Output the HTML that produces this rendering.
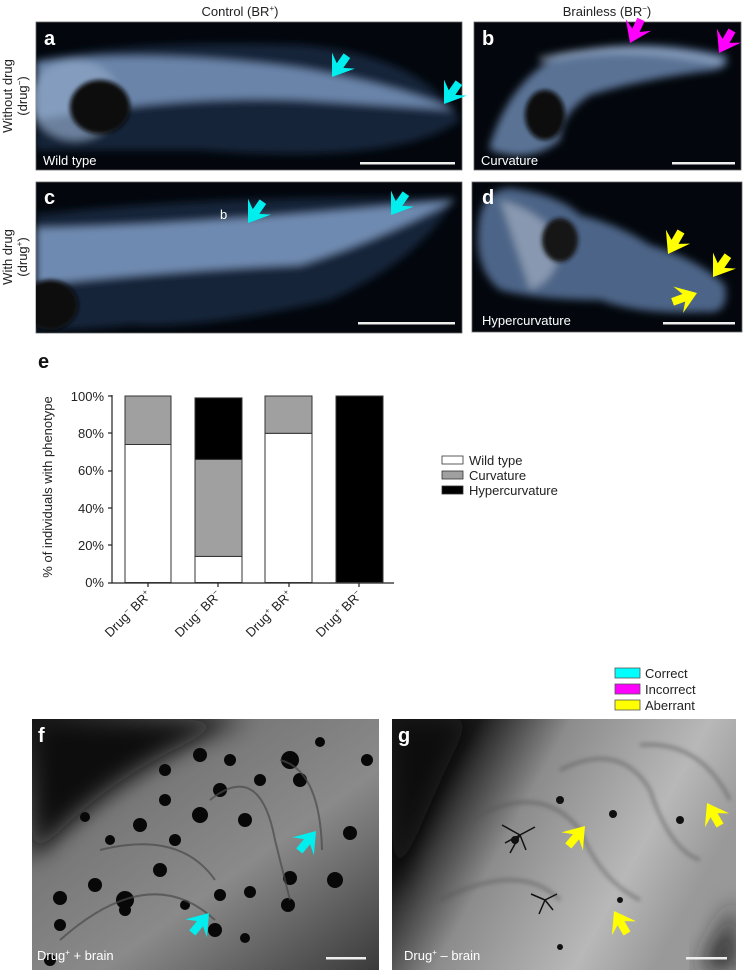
<!DOCTYPE html>
<html><head><meta charset="utf-8"><style>
html,body{margin:0;padding:0;background:#fff;}
svg{display:block;font-family:"Liberation Sans",Arial,sans-serif;}
</style></head><body>
<svg width="744" height="970" viewBox="0 0 744 970" xmlns="http://www.w3.org/2000/svg">
<defs>
<filter id="bl" x="-20%" y="-20%" width="140%" height="140%"><feGaussianBlur stdDeviation="4"/></filter>
<filter id="bl2" x="-20%" y="-20%" width="140%" height="140%"><feGaussianBlur stdDeviation="2"/></filter>
<filter id="bl8" x="-30%" y="-30%" width="160%" height="160%"><feGaussianBlur stdDeviation="12"/></filter>
<clipPath id="ca"><rect x="36" y="22" width="426" height="148"/></clipPath>
<clipPath id="cb"><rect x="474" y="22" width="267" height="148"/></clipPath>
<clipPath id="cc"><rect x="36" y="182" width="426" height="151"/></clipPath>
<clipPath id="cd"><rect x="472" y="182" width="270" height="150"/></clipPath>
<clipPath id="cf"><rect x="32" y="719" width="347" height="251"/></clipPath>
<clipPath id="cg"><rect x="392" y="719" width="344" height="251"/></clipPath>
<polygon id="ar" points="0,0 -20,-14 -14,-4 -26,-4 -26,4 -14,4 -20,14"/>
<linearGradient id="gf" x1="0" y1="0" x2="1" y2="1"><stop offset="0" stop-color="#111"/><stop offset="0.3" stop-color="#777"/><stop offset="0.6" stop-color="#8a8a8a"/><stop offset="1" stop-color="#3a3a3a"/></linearGradient>
<linearGradient id="gg" x1="0" y1="0" x2="1" y2="0.4"><stop offset="0" stop-color="#111"/><stop offset="0.22" stop-color="#1a1a1a"/><stop offset="0.45" stop-color="#8c8c8c"/><stop offset="0.8" stop-color="#b8b8b8"/><stop offset="1" stop-color="#999"/></linearGradient>
</defs>

<text x="240" y="16" font-size="13" text-anchor="middle" fill="#222">Control (BR<tspan font-size="8" dy="-5">+</tspan><tspan dy="5">)</tspan></text>
<text x="607" y="16" font-size="13" text-anchor="middle" fill="#222">Brainless (BR<tspan font-size="8" dy="-5">−</tspan><tspan dy="5">)</tspan></text>
<g font-size="13" fill="#222" text-anchor="middle">
<text transform="translate(12,96) rotate(-90)">Without drug</text>
<text transform="translate(27,96) rotate(-90)">(drug<tspan font-size="8" dy="-5">−</tspan><tspan dy="5">)</tspan></text>
<text transform="translate(12,257) rotate(-90)">With drug</text>
<text transform="translate(27,257) rotate(-90)">(drug<tspan font-size="8" dy="-5">+</tspan><tspan dy="5">)</tspan></text>
</g>

<!-- panel a -->
<rect x="36" y="22" width="426" height="148" fill="#03070d" stroke="#666" stroke-width="0.8"/>
<g clip-path="url(#ca)">
<g filter="url(#bl)">
<path d="M36,60 Q120,40 300,45 Q420,55 460,120 Q400,165 200,150 Q120,150 36,150Z" fill="#1a2a45" opacity="0.8"/>
<path d="M36,62 Q150,48 300,68 Q400,85 455,110 Q380,105 300,100 Q180,95 36,120Z" fill="#7f9cc5" opacity="0.8"/>
<ellipse cx="75" cy="100" rx="45" ry="40" fill="#90a8c8" opacity="0.7"/>
</g>
<ellipse cx="100" cy="107" rx="30" ry="27" fill="#070707" filter="url(#bl2)"/>
</g>
<text x="43" y="165" font-size="13" fill="#fff">Wild type</text>
<text x="44" y="45" font-size="20" font-weight="bold" fill="#fff">a</text>
<rect x="360" y="162" width="95" height="2.5" fill="#eee"/>

<!-- panel b -->
<rect x="474" y="22" width="267" height="148" fill="#03070d" stroke="#666" stroke-width="0.8"/>
<g clip-path="url(#cb)">
<g filter="url(#bl)">
<path d="M490,145 Q510,80 560,55 Q640,35 725,55 Q735,70 700,72 Q640,80 590,95 Q560,115 560,140 Q530,165 490,150Z" fill="#6f8db8" opacity="0.8"/>
<path d="M540,60 Q620,40 720,62" stroke="#b0c4e0" stroke-width="5" fill="none" opacity="0.7"/>
</g>
<ellipse cx="545" cy="115" rx="20" ry="25" fill="#070707" filter="url(#bl2)"/>
</g>
<text x="481" y="165" font-size="13" fill="#fff">Curvature</text>
<text x="482" y="45" font-size="20" font-weight="bold" fill="#fff">b</text>
<rect x="672" y="162" width="63" height="2.5" fill="#eee"/>

<!-- panel c -->
<rect x="36" y="182" width="426" height="151" fill="#03070d" stroke="#666" stroke-width="0.8"/>
<g clip-path="url(#cc)">
<g filter="url(#bl)">
<path d="M36,215 Q200,195 455,198 Q420,260 330,300 Q200,330 130,325 Q90,330 36,330Z" fill="#1a2a45" opacity="0.8"/>
<path d="M36,228 Q200,225 455,200 Q380,240 300,265 Q180,270 36,285Z" fill="#7f9cc5" opacity="0.85"/>
</g>
<ellipse cx="50" cy="305" rx="28" ry="25" fill="#070707" filter="url(#bl2)"/>
</g>
<text x="220" y="219" font-size="13" fill="#fff">b</text>
<text x="44" y="204" font-size="20" font-weight="bold" fill="#fff">c</text>
<rect x="358" y="322" width="97" height="2.5" fill="#eee"/>

<!-- panel d -->
<rect x="472" y="182" width="270" height="150" fill="#03070d" stroke="#666" stroke-width="0.8"/>
<g clip-path="url(#cd)">
<g filter="url(#bl)">
<path d="M478,230 Q480,190 510,188 Q560,195 580,215 Q620,225 650,245 Q700,260 725,285 Q730,315 705,312 Q640,315 600,300 Q540,300 500,290 Q475,270 478,230Z" fill="#5f7ca6" opacity="0.8"/>
<path d="M500,200 Q540,210 560,240 Q560,280 530,290" fill="#b0bccc" opacity="0.6"/>
</g>
<ellipse cx="560" cy="240" rx="18" ry="22" fill="#181818" filter="url(#bl2)"/>
</g>
<text x="482" y="325" font-size="13" fill="#fff">Hypercurvature</text>
<text x="482" y="204" font-size="20" font-weight="bold" fill="#fff">d</text>
<rect x="663" y="322" width="72" height="2.5" fill="#eee"/>

<g fill="#00eeee">
<use href="#ar" transform="translate(332,77) rotate(125)"/>
<use href="#ar" transform="translate(444,104) rotate(125)"/>
<use href="#ar" transform="translate(248,223) rotate(125)"/>
<use href="#ar" transform="translate(391,215) rotate(125)"/>
</g>
<g fill="#ff00ff">
<use href="#ar" transform="translate(630,43) rotate(115)"/>
<use href="#ar" transform="translate(719,53) rotate(120)"/>
</g>
<g fill="#ffff00">
<use href="#ar" transform="translate(668,254) rotate(120)"/>
<use href="#ar" transform="translate(713,277) rotate(125)"/>
<use href="#ar" transform="translate(697,293) rotate(-20)"/>
</g>

<!-- panel e -->
<text x="38" y="368" font-size="20" font-weight="bold" fill="#111">e</text>
<text transform="translate(52,487) rotate(-90)" font-size="13" fill="#222" text-anchor="middle">% of individuals with phenotype</text>
<g font-size="13" fill="#222" text-anchor="end">
<text x="104" y="401">100%</text>
<text x="104" y="438">80%</text>
<text x="104" y="475">60%</text>
<text x="104" y="513">40%</text>
<text x="104" y="550">20%</text>
<text x="104" y="587">0%</text>
</g>
<g stroke="#222" stroke-width="1.2">
<line x1="112" y1="395" x2="112" y2="583"/>
<line x1="108" y1="583" x2="394" y2="583"/>
<line x1="108" y1="396" x2="112" y2="396"/><line x1="108" y1="433" x2="112" y2="433"/>
<line x1="108" y1="471" x2="112" y2="471"/><line x1="108" y1="508" x2="112" y2="508"/>
<line x1="108" y1="545" x2="112" y2="545"/>
<line x1="148" y1="583" x2="148" y2="587"/><line x1="218" y1="583" x2="218" y2="587"/>
<line x1="289" y1="583" x2="289" y2="587"/><line x1="359" y1="583" x2="359" y2="587"/>
</g>
<g stroke="#333" stroke-width="1">
<rect x="125" y="444.5" width="46" height="138" fill="#fff"/>
<rect x="125" y="396" width="46" height="48.5" fill="#a0a0a0"/>
<rect x="195" y="556.4" width="47" height="26.1" fill="#fff"/>
<rect x="195" y="459.4" width="47" height="97" fill="#a0a0a0"/>
<rect x="195" y="397.9" width="47" height="61.5" fill="#000"/>
<rect x="265" y="433.3" width="47" height="149.2" fill="#fff"/>
<rect x="265" y="396" width="47" height="37.3" fill="#a0a0a0"/>
<rect x="336" y="396" width="47" height="186.5" fill="#000"/>
</g>
<g font-size="13" fill="#222" text-anchor="end">
<text transform="translate(152,596) rotate(-45)">Drug<tspan font-size="8" dy="-5">−</tspan><tspan dy="5"> BR</tspan><tspan font-size="8" dy="-5">+</tspan></text>
<text transform="translate(222,596) rotate(-45)">Drug<tspan font-size="8" dy="-5">−</tspan><tspan dy="5"> BR</tspan><tspan font-size="8" dy="-5">−</tspan></text>
<text transform="translate(293,596) rotate(-45)">Drug<tspan font-size="8" dy="-5">+</tspan><tspan dy="5"> BR</tspan><tspan font-size="8" dy="-5">+</tspan></text>
<text transform="translate(363,596) rotate(-45)">Drug<tspan font-size="8" dy="-5">+</tspan><tspan dy="5"> BR</tspan><tspan font-size="8" dy="-5">−</tspan></text>
</g>
<g stroke="#333" stroke-width="0.8">
<rect x="442" y="456" width="21" height="8" fill="#fff"/>
<rect x="442" y="471" width="21" height="8" fill="#a0a0a0"/>
<rect x="442" y="486" width="21" height="8" fill="#000"/>
</g>
<g font-size="13" fill="#222">
<text x="469" y="465">Wild type</text>
<text x="469" y="480">Curvature</text>
<text x="469" y="495">Hypercurvature</text>
</g>
<g stroke="#555" stroke-width="0.8">
<rect x="615" y="668" width="25" height="10" fill="#00ffff"/>
<rect x="615" y="684" width="25" height="10" fill="#ff00ff"/>
<rect x="615" y="700" width="25" height="10" fill="#ffff00"/>
</g>
<g font-size="13" fill="#222">
<text x="645" y="678">Correct</text>
<text x="645" y="694">Incorrect</text>
<text x="645" y="710">Aberrant</text>
</g>

<!-- panel f -->
<rect x="32" y="719" width="347" height="251" fill="url(#gf)"/>
<g clip-path="url(#cf)">
<path d="M32,719 L250,719 Q120,760 32,860Z" fill="#0a0a0a" filter="url(#bl8)"/>
<g fill="#080808">
<circle cx="200" cy="755" r="7"/><circle cx="230" cy="760" r="6"/><circle cx="290" cy="760" r="9"/><circle cx="260" cy="780" r="6"/>
<circle cx="220" cy="790" r="7"/><circle cx="200" cy="815" r="8"/><circle cx="175" cy="840" r="6"/><circle cx="160" cy="870" r="7"/>
<circle cx="125" cy="900" r="9"/><circle cx="95" cy="885" r="7"/><circle cx="60" cy="925" r="6"/><circle cx="50" cy="960" r="6"/>
<circle cx="140" cy="825" r="7"/><circle cx="165" cy="800" r="6"/><circle cx="245" cy="820" r="7"/><circle cx="300" cy="780" r="7"/>
<circle cx="350" cy="833" r="7"/><circle cx="335" cy="880" r="8"/><circle cx="290" cy="878" r="7"/><circle cx="250" cy="892" r="6"/>
<circle cx="220" cy="895" r="6"/><circle cx="288" cy="905" r="7"/><circle cx="215" cy="930" r="7"/><circle cx="125" cy="910" r="6"/>
<circle cx="60" cy="898" r="7"/><circle cx="185" cy="905" r="5"/><circle cx="165" cy="770" r="6"/><circle cx="320" cy="742" r="5"/>
<circle cx="367" cy="760" r="6"/><circle cx="110" cy="840" r="5"/><circle cx="245" cy="938" r="5"/><circle cx="85" cy="817" r="5"/>
</g>
<g stroke="#4a4a4a" stroke-width="2" fill="none" opacity="0.7">
<path d="M60,940 Q150,860 215,920"/><path d="M100,850 Q180,830 215,880"/><path d="M210,800 Q260,760 275,840 L290,900"/><path d="M280,760 Q320,770 322,850"/>
</g>
</g>
<text x="37" y="960" font-size="13" fill="#fff">Drug<tspan font-size="8" dy="-5">+</tspan><tspan dy="5"> + brain</tspan></text>
<text x="38" y="742" font-size="20" font-weight="bold" fill="#fff">f</text>
<rect x="326" y="957" width="40" height="2.5" fill="#eee"/>
<g fill="#00eeee">
<use href="#ar" transform="translate(209,913) rotate(-50)"/>
<use href="#ar" transform="translate(316,831) rotate(-50)"/>
</g>

<!-- panel g -->
<rect x="392" y="719" width="344" height="251" fill="url(#gg)"/>
<g clip-path="url(#cg)">
<path d="M392,719 L470,719 Q420,820 392,900Z" fill="#0e0e0e" filter="url(#bl8)"/>
<path d="M700,970 L736,900 L736,970Z" fill="#222" filter="url(#bl8)"/>
<g stroke="#555" stroke-width="3" fill="none" opacity="0.6" filter="url(#bl2)">
<path d="M470,820 Q540,780 580,830 Q600,880 640,900"/><path d="M560,770 Q620,740 650,790 Q670,850 700,860"/><path d="M440,900 Q520,860 560,900"/><path d="M640,745 Q700,740 730,800"/>
</g>
<g fill="#111">
<circle cx="515" cy="840" r="4"/><circle cx="560" cy="800" r="4"/><circle cx="613" cy="814" r="4"/><circle cx="680" cy="820" r="4"/><circle cx="560" cy="947" r="3"/><circle cx="620" cy="900" r="3"/>
</g>
<g stroke="#111" stroke-width="1.5">
<path d="M520,835 l-18,-10 M520,835 l-10,18 M520,835 l15,-8 M520,835 l6,15 M520,835 l-15,8"/>
<path d="M545,900 l-14,-6 M545,900 l-6,14 M545,900 l12,-6 M545,900 l8,10"/>
</g>
</g>
<text x="404" y="960" font-size="13" fill="#fff">Drug<tspan font-size="8" dy="-5">+</tspan><tspan dy="5"> – brain</tspan></text>
<text x="398" y="742" font-size="20" font-weight="bold" fill="#fff">g</text>
<rect x="686" y="957" width="41" height="2.5" fill="#eee"/>
<g fill="#ffff00">
<use href="#ar" transform="translate(585,826) rotate(-50)"/>
<use href="#ar" transform="translate(614,911) rotate(-120)"/>
<use href="#ar" transform="translate(707,803) rotate(-120)"/>
</g>
</svg>
</body></html>
